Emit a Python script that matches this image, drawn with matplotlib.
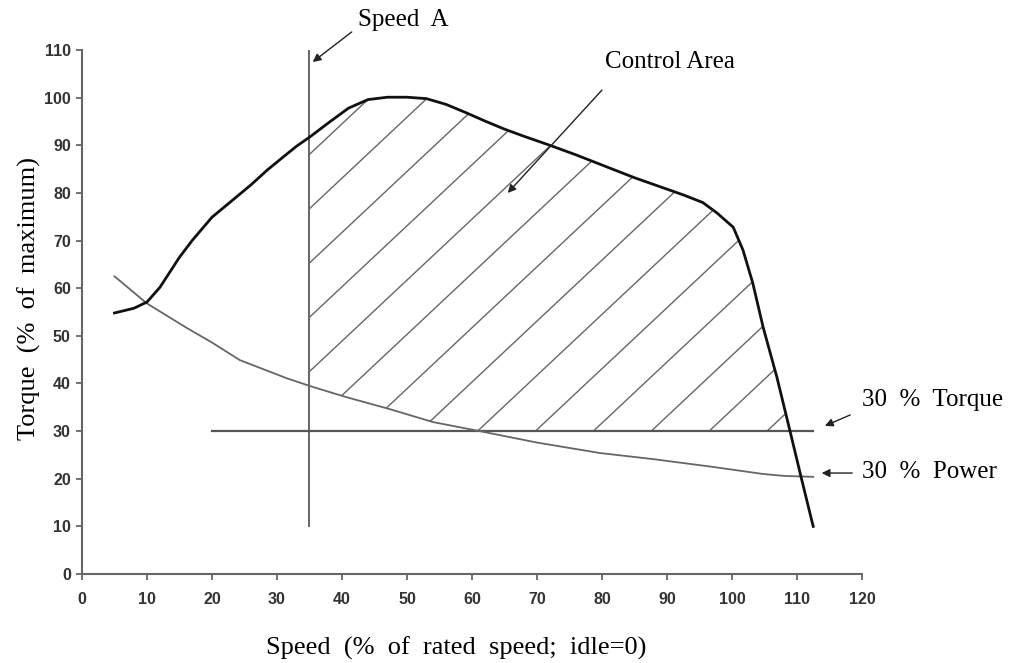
import numpy as np
import matplotlib
matplotlib.use('Agg')
import matplotlib.pyplot as plt

# full load torque curve (% of maximum)
torque_x = [5, 8, 10, 12, 15, 17, 20, 23, 26, 28.5, 31, 33, 35, 38, 41, 44, 47, 50, 53, 56, 59, 62, 65, 68, 72, 76, 85, 92.5, 95.5, 97.7, 100.2, 101.7, 103.2, 104.8, 106.9, 108.9, 110.7, 112.5]
torque_y = [54.8, 55.8, 57.1, 60.2, 66.5, 70.1, 74.9, 78.3, 81.7, 84.8, 87.6, 89.8, 91.7, 94.8, 97.8, 99.6, 100.1, 100.1, 99.8, 98.6, 96.9, 95.1, 93.4, 91.9, 90.0, 88.0, 83.2, 79.6, 78.0, 75.8, 72.8, 68.0, 61.1, 51.8, 41.4, 30.2, 20.0, 10.0]

# 30 % power curve
power_x = [5, 10, 16.2, 20, 24.3, 31.5, 35, 40.5, 47.4, 54, 61.2, 70, 79.7, 88, 97, 104.8, 108, 112.5]
power_y = [62.5, 56.8, 51.6, 48.6, 44.9, 41.1, 39.5, 37.2, 34.6, 31.9, 30.0, 27.6, 25.4, 24.1, 22.5, 21.0, 20.6, 20.4]

speed_a = 35
speed_a_y = [10, 110]
torque_30_x = [20, 112.5]
torque_30 = 30

xticks = list(range(0, 121, 10))
yticks = list(range(0, 111, 10))

fig = plt.figure(figsize=(10.35, 6.63), dpi=100)
ax = fig.add_axes([0.0792, 0.1342, 0.7536, 0.7903])

gray = '#666666'
serif = 'Liberation Serif'
fs = 18

# control area (clip region for the hatch)
xg = np.linspace(speed_a, 112.5, 600)
upper = np.interp(xg, torque_x, torque_y)
lower = np.maximum(np.interp(xg, power_x, power_y), torque_30)
area = ax.fill_between(xg, lower, upper, where=upper >= lower, facecolor='none', edgecolor='none')
clip = area.get_paths()[0]

# wide diagonal hatch
hx = np.array([speed_a, 115])
for k in range(-12, 4):
    hl, = ax.plot(hx, 1.28 * (hx - speed_a) + 65.3 + 11.4 * k, color=gray, lw=1.0)
    hl.set_clip_path(clip, transform=ax.transData)

ax.plot([speed_a, speed_a], speed_a_y, color=gray, lw=1.4)
ax.plot(torque_30_x, [torque_30, torque_30], color='#555555', lw=1.6)
ax.plot(power_x, power_y, color=gray, lw=1.3)
ax.plot(torque_x, torque_y, color='#111111', lw=2.0)

ax.set_xlim(0, 120)
ax.set_ylim(0, 110)
ax.set_xticks(xticks)
ax.set_yticks(yticks)
for s in ['top', 'right']:
    ax.spines[s].set_visible(False)
for s in ['left', 'bottom']:
    ax.spines[s].set_color(gray)
    ax.spines[s].set_linewidth(1.5)
ax.tick_params(direction='out', length=4, width=1.3, color=gray, labelcolor='#333333')
ax.tick_params(axis='x', pad=9)
ax.tick_params(axis='y', pad=4)
for lab in ax.get_xticklabels() + ax.get_yticklabels():
    lab.set_fontfamily('Liberation Sans')
    lab.set_fontweight('bold')
    lab.set_fontsize(11.5)

ax.set_xlabel('Speed  (%  of  rated  speed;  idle=0)', fontfamily=serif, fontsize=19)
ax.set_ylabel('Torque  (%  of  maximum)', fontfamily=serif, fontsize=19)
ax.xaxis.set_label_coords(0.48, -0.12)
ax.yaxis.set_label_coords(-0.053, 0.525)

arrow = dict(arrowstyle='-|>', color='#222222', lw=1.0, mutation_scale=12, shrinkA=0, shrinkB=0)
ax.annotate('', xy=(35.5, 107.5), xytext=(41.5, 113.8), arrowprops=arrow, annotation_clip=False)
ax.text(42.5, 116.3, 'Speed  A', fontfamily=serif, fontsize=fs, va='center', clip_on=False)
ax.annotate('', xy=(65.5, 80), xytext=(80, 101.6), arrowprops=arrow, annotation_clip=False)
ax.text(80.5, 107.5, 'Control Area', fontfamily=serif, fontsize=fs, va='center', clip_on=False)
ax.annotate('', xy=(114.3, 31.1), xytext=(118.2, 33.4), arrowprops=arrow, annotation_clip=False)
ax.text(120, 36.5, '30  %  Torque', fontfamily=serif, fontsize=fs, va='center', clip_on=False)
ax.annotate('', xy=(113.8, 21.2), xytext=(118.5, 21.2), arrowprops=arrow, annotation_clip=False)
ax.text(120, 21.4, '30  %  Power', fontfamily=serif, fontsize=fs, va='center', clip_on=False)

fig.savefig('out.png', dpi=100)
